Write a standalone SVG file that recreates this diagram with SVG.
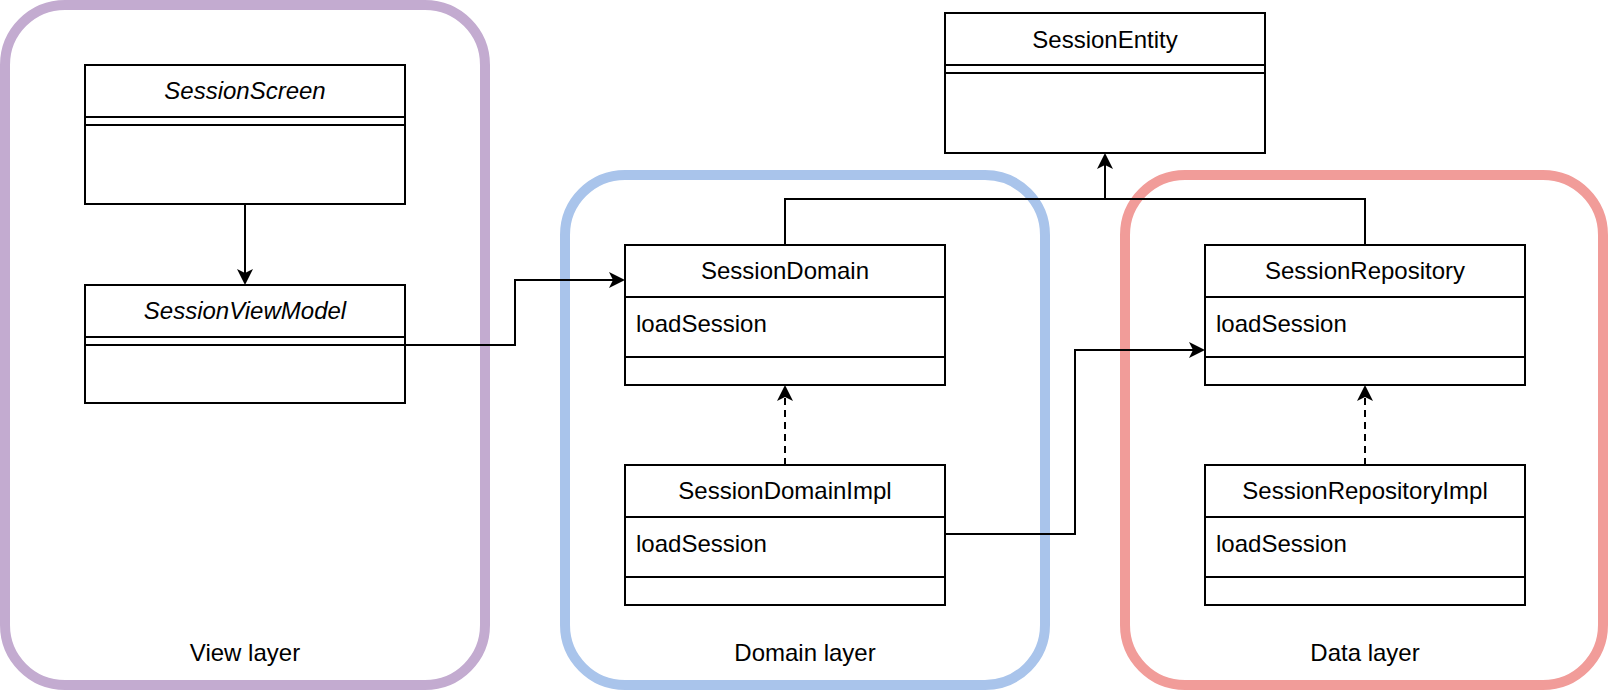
<svg xmlns="http://www.w3.org/2000/svg" width="1610" height="690" viewBox="0 0 1610 690">
<style>
text{font-family:"Liberation Sans",Arial,Helvetica,sans-serif;font-size:24px;fill:#000}
.c{text-anchor:middle}
.i{font-style:italic}
.box{fill:#fff;stroke:#000;stroke-width:2}
.ln{fill:none;stroke:#000;stroke-width:2}
.edge{fill:none;stroke:#000;stroke-width:2}
.dash{stroke-dasharray:7 5}
.layer{fill:none;stroke-width:10}
</style>
<defs>
<marker id="arr" markerUnits="userSpaceOnUse" markerWidth="18" markerHeight="18" viewBox="0 0 18 18" refX="5" refY="9" orient="auto">
<path d="M1,1 L17,9 L1,17 L5,9 Z" fill="#000"/>
</marker>
</defs>

<g id="view-layer">
<rect class="layer" x="5" y="5" width="480" height="680" rx="60" stroke="#C3ABD0"/>
<text class="c" x="245" y="661">View layer</text>
</g>
<g id="domain-layer">
<rect class="layer" x="565" y="175" width="480" height="510" rx="60" stroke="#A9C4EB"/>
<text class="c" x="805" y="661">Domain layer</text>
</g>
<g id="data-layer">
<rect class="layer" x="1125" y="175" width="478" height="510" rx="60" stroke="#F19C99"/>
<text class="c" x="1365" y="661">Data layer</text>
</g>

<g id="connectors">
<path class="edge" d="M245,204 V273" marker-end="url(#arr)"/>
<path class="edge" d="M405,345 H515 V280 H613" marker-end="url(#arr)"/>
<path class="edge" d="M785,245 V199 H1105 V165" marker-end="url(#arr)"/>
<path class="edge" d="M1365,245 V199 H1105"/>
<path class="edge dash" d="M785,465 V397" marker-end="url(#arr)"/>
<path class="edge" d="M945,534 H1075 V350 H1193" marker-end="url(#arr)"/>
<path class="edge dash" d="M1365,465 V397" marker-end="url(#arr)"/>
</g>

<g id="SessionScreen">
<rect class="box" x="85" y="65" width="320" height="139"/>
<line class="ln" x1="85" y1="117" x2="405" y2="117"/>
<line class="ln" x1="85" y1="125" x2="405" y2="125"/>
<text class="c i" x="245" y="99">SessionScreen</text>
</g>

<g id="SessionViewModel">
<rect class="box" x="85" y="285" width="320" height="118"/>
<line class="ln" x1="85" y1="337" x2="405" y2="337"/>
<line class="ln" x1="85" y1="345" x2="405" y2="345"/>
<text class="c i" x="245" y="319">SessionViewModel</text>
</g>

<g id="SessionEntity">
<rect class="box" x="945" y="13" width="320" height="140"/>
<line class="ln" x1="945" y1="65" x2="1265" y2="65"/>
<line class="ln" x1="945" y1="73" x2="1265" y2="73"/>
<text class="c" x="1105" y="48">SessionEntity</text>
</g>

<g id="SessionDomain">
<rect class="box" x="625" y="245" width="320" height="140"/>
<line class="ln" x1="625" y1="297" x2="945" y2="297"/>
<line class="ln" x1="625" y1="357" x2="945" y2="357"/>
<text class="c" x="785" y="279">SessionDomain</text>
<text x="636" y="332">loadSession</text>
</g>

<g id="SessionDomainImpl">
<rect class="box" x="625" y="465" width="320" height="140"/>
<line class="ln" x1="625" y1="517" x2="945" y2="517"/>
<line class="ln" x1="625" y1="577" x2="945" y2="577"/>
<text class="c" x="785" y="499">SessionDomainImpl</text>
<text x="636" y="552">loadSession</text>
</g>

<g id="SessionRepository">
<rect class="box" x="1205" y="245" width="320" height="140"/>
<line class="ln" x1="1205" y1="297" x2="1525" y2="297"/>
<line class="ln" x1="1205" y1="357" x2="1525" y2="357"/>
<text class="c" x="1365" y="279">SessionRepository</text>
<text x="1216" y="332">loadSession</text>
</g>

<g id="SessionRepositoryImpl">
<rect class="box" x="1205" y="465" width="320" height="140"/>
<line class="ln" x1="1205" y1="517" x2="1525" y2="517"/>
<line class="ln" x1="1205" y1="577" x2="1525" y2="577"/>
<text class="c" x="1365" y="499">SessionRepositoryImpl</text>
<text x="1216" y="552">loadSession</text>
</g>
</svg>
